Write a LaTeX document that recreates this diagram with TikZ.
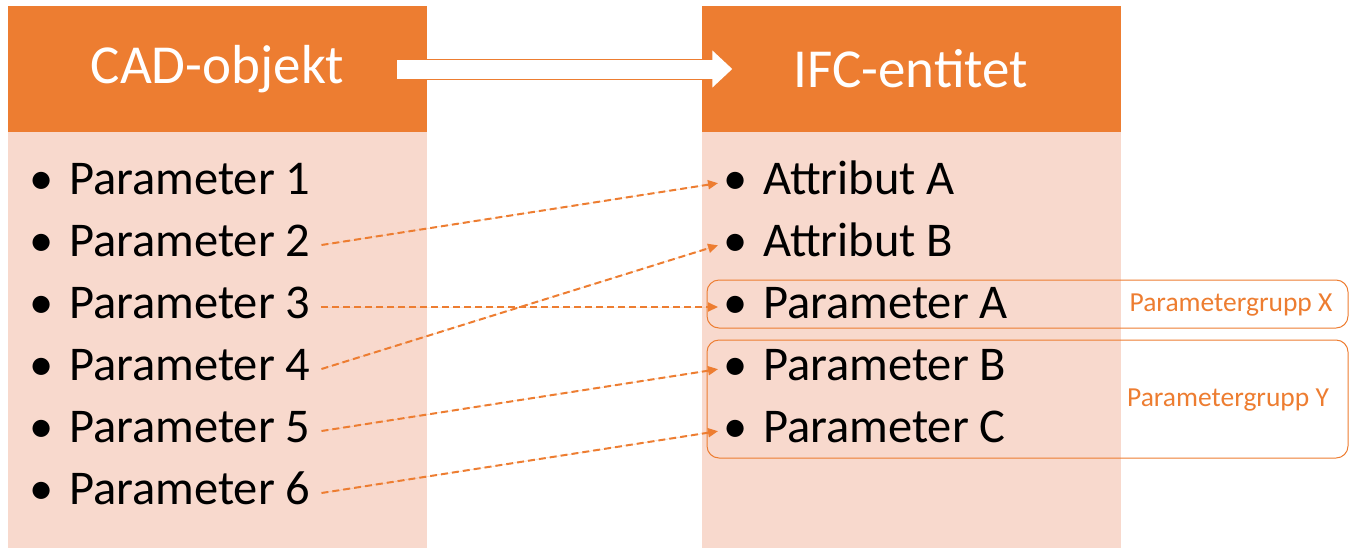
\documentclass[tikz,border=0pt]{standalone}
\usepackage{fontspec}
\setmainfont{Carlito}
\usetikzlibrary{arrows,arrows.meta,positioning}
\definecolor{accent}{RGB}{237,125,49}
\definecolor{tint}{RGB}{248,217,205}

\begin{document}
\begin{tikzpicture}[x=1pt,y=-1pt,>=stealth',shorten >=1pt,node distance=62pt,
  head node/.style={fill=accent,text=white,minimum width=419pt,minimum height=126pt,inner sep=0pt,font=\fontsize{55}{66}\selectfont},
  body node/.style={fill=tint,minimum width=419pt,minimum height=416pt,inner sep=0pt},
  param node/.style={inner sep=0pt,outer xsep=11pt,font=\fontsize{48.5}{58}\selectfont},
  attr node/.style={inner sep=0pt,outer xsep=4pt,text width=300pt,align=flush left,font=\fontsize{48.5}{58}\selectfont},
  group node/.style={draw=accent,rounded corners=12pt,line width=1pt,minimum width=641pt,inner sep=0pt},
  tag node/.style={text=accent,font=\fontsize{27.5}{32}\selectfont},
  map/.style={-{Triangle[length=10pt,width=9pt]},dash pattern=on 7pt off 4pt,line width=2pt,draw=accent,fill=accent},
  big arrow/.style={line width=#1,shorten >=0pt,-{Triangle[length=20pt,width=36pt]}}]
  \useasboundingbox (0,0) rectangle (1351,550);

  % headers and bodies
  \node[head node] (cad) at (217.5,69) {CAD-objekt};
  \node[body node, below=0pt of cad] (cadbody) {};
  \node[head node] (ifc) at (911,69) {IFC-entitet};
  \node[body node, below=0pt of ifc] (ifcbody) {};

  % CAD parameters
  \node[param node, anchor=west] (p1) at (18,183) {•\hspace{16pt}Parameter 1\strut};
  \node[param node] (p2) [below of=p1] {•\hspace{16pt}Parameter 2\strut};
  \node[param node] (p3) [below of=p2] {•\hspace{16pt}Parameter 3\strut};
  \node[param node] (p4) [below of=p3] {•\hspace{16pt}Parameter 4\strut};
  \node[param node] (p5) [below of=p4] {•\hspace{16pt}Parameter 5\strut};
  \node[param node] (p6) [below of=p5] {•\hspace{16pt}Parameter 6\strut};

  % IFC attributes and parameters
  \node[attr node, anchor=west] (a1) at (719,183) {•\hspace{16pt}Attribut A\strut};
  \node[attr node] (a2) [below of=a1] {•\hspace{16pt}Attribut B\strut};
  \node[attr node] (pa) [below of=a2] {•\hspace{16pt}Parameter A\strut};
  \node[attr node] (pb) [below of=pa] {•\hspace{16pt}Parameter B\strut};
  \node[attr node] (pc) [below of=pb] {•\hspace{16pt}Parameter C\strut};

  % parameter groups
  \node[group node, minimum height=48pt] (grpx) at (1027.5,304) {};
  \node[group node, minimum height=118pt] (grpy) at (1027.5,399) {};
  \node[tag node] (tagx) at (1231,305) {Parametergrupp X};
  \node[tag node] (tagy) at (1228,400) {Parametergrupp Y};

  % mapping
  \coordinate (from) at ([xshift=-30pt]cad.east);
  \coordinate (to) at ([xshift=31pt]ifc.west);
  \draw[big arrow=21pt, accent] (from) -- (to);
  \draw[big arrow=19pt, white] (from) -- (to);

  \draw[map] (p2.east) -- (a1.west);
  \draw[map] (p3.east) -- (pa.west);
  \draw[map] (p4.east) -- (a2.west);
  \draw[map] (p5.east) -- (pb.west);
  \draw[map] (p6.east) -- (pc.west);
\end{tikzpicture}
\end{document}
